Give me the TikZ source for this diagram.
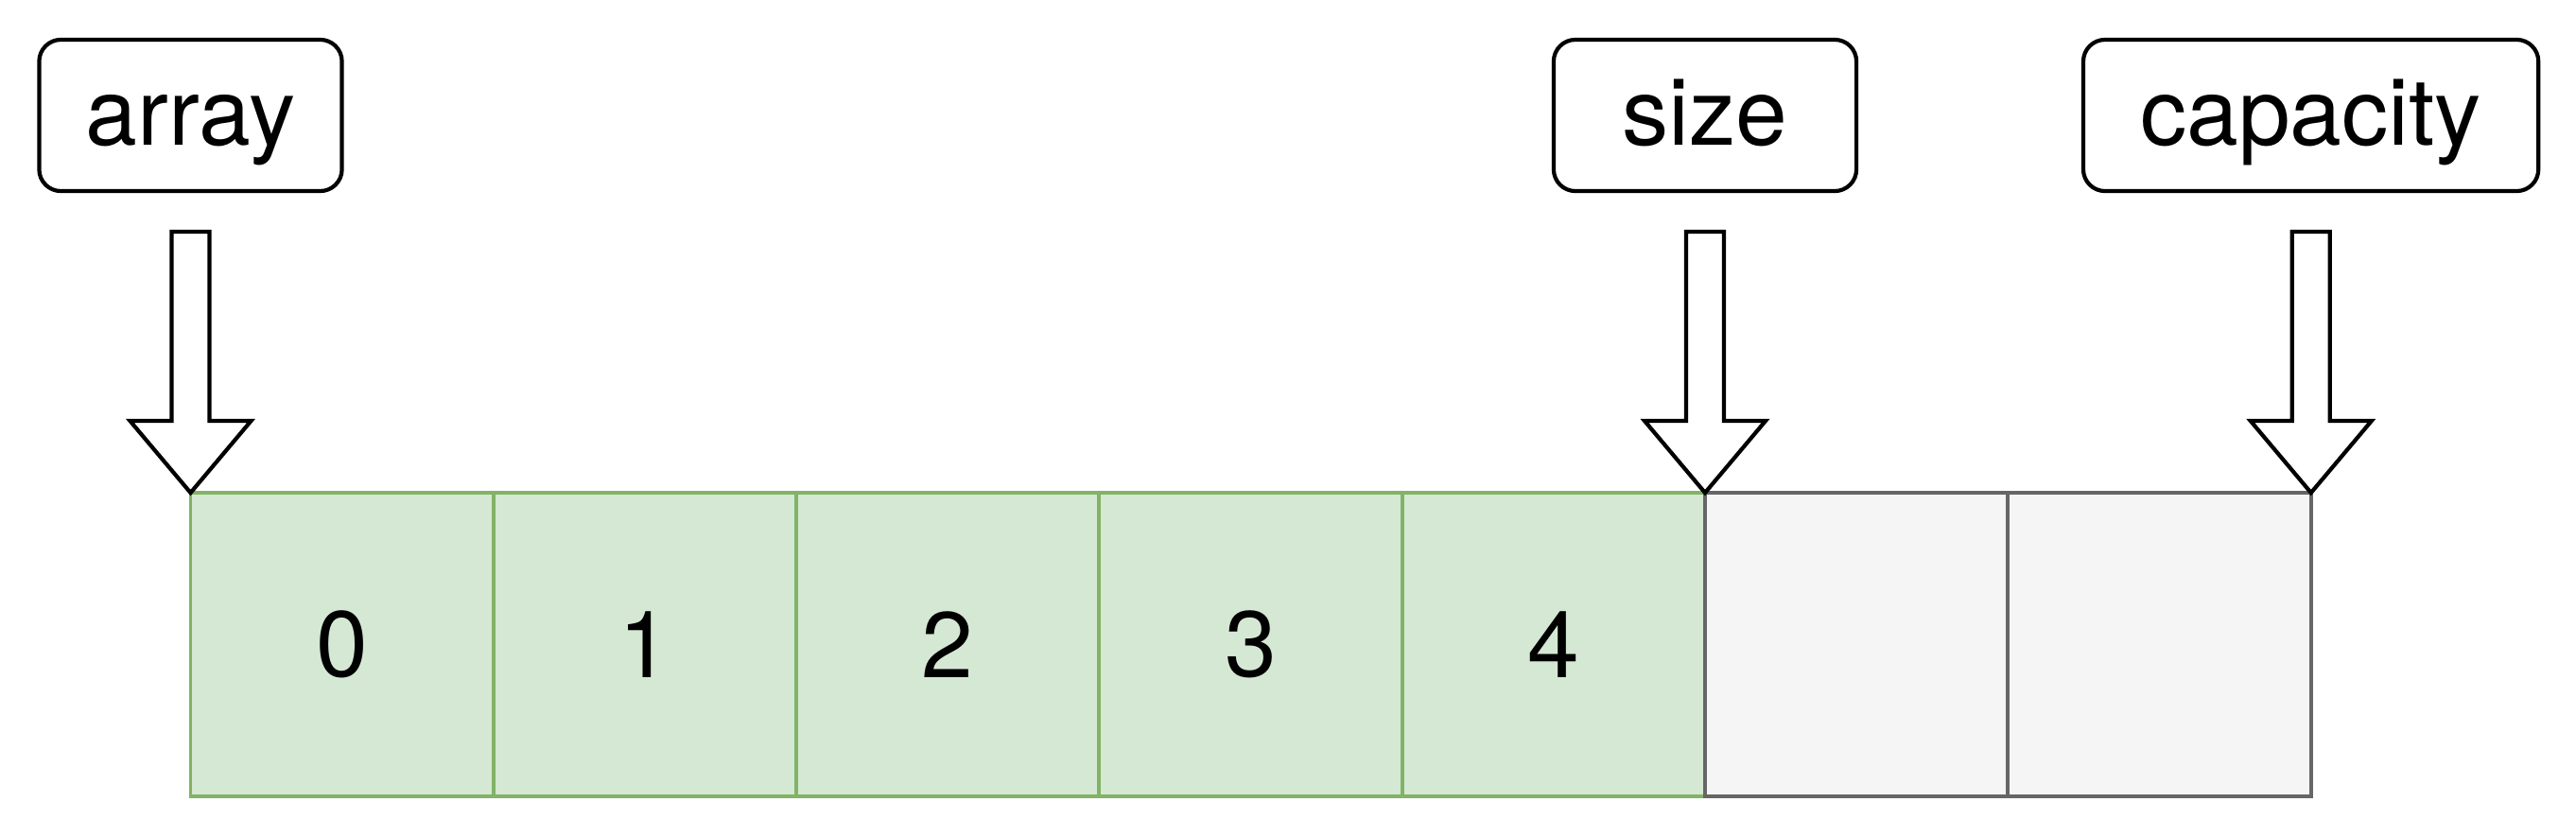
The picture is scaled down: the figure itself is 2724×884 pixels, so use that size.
\documentclass[tikz,border=0pt]{standalone}
\usepackage{fontspec}
\setmainfont{TeX Gyre Heros}
\usepackage{tikz}
\usetikzlibrary{positioning, calc}
\definecolor{usedfill}{HTML}{D5E8D4}
\definecolor{useddraw}{HTML}{82B366}
\definecolor{freefill}{HTML}{F5F5F5}
\definecolor{freedraw}{HTML}{666666}
\newcommand{\bigtext}{\fontsize{28}{34}\selectfont}

\begin{document}
\begin{tikzpicture}[x=0.01cm, y=-0.01cm,
  cell/.style={draw, line width=1.1pt, outer sep=0pt, inner sep=0pt, minimum width=3.203cm, minimum height=3.21cm, font=\bigtext},
  used/.style={cell, fill=usedfill, draw=useddraw},
  free/.style={cell, fill=freefill, draw=freedraw},
  tag/.style={draw, line width=1.2pt, rounded corners=0.23cm, minimum width=3.2cm, minimum height=1.6cm, text height=0.88cm, text depth=0.25cm, font=\bigtext},
  blockarrow/.style={draw, line width=1.2pt, fill=white, line join=miter}]
\useasboundingbox (0,0) rectangle (2724,884);
% slots of the array
\foreach \i in {0,...,4}
  \node[used, anchor=north west] (c\i) at (201.5+\i*320.3, 521) {\i};
\foreach \i in {5,6}
  \node[free, anchor=north west] (c\i) at (201.5+\i*320.3, 521) {};
% pointers
\node[tag] (array) at (201.5, 122) {array};
\node[tag] (size) at (1803, 122) {size};
\node[tag, minimum width=4.81cm] (capacity) at (2443.6, 122) {capacity};
\foreach \t in {c0.north west, c5.north west, c6.north east}
  \draw[blockarrow] (\t) -- ++(-64,-76) -- ++(44,0) -- ++(0,-200) -- ++(40,0) -- ++(0,200) -- ++(44,0) -- cycle;
\end{tikzpicture}
\end{document}
